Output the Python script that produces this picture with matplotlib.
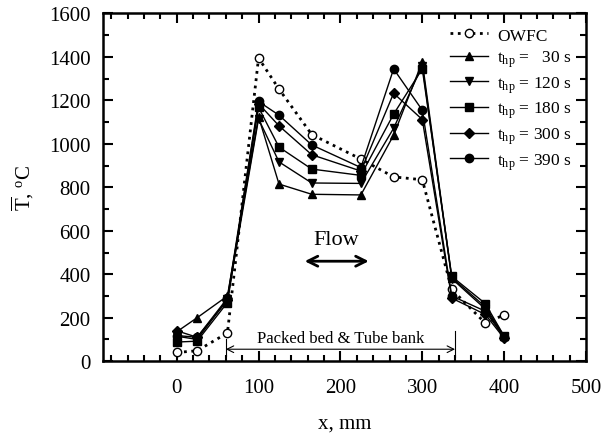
import matplotlib
matplotlib.use('Agg')
import matplotlib.pyplot as plt
from matplotlib.ticker import MultipleLocator

plt.rcParams['font.family'] = 'Liberation Serif'
plt.rcParams['mathtext.fontset'] = 'custom'
plt.rcParams['mathtext.rm'] = 'Liberation Serif'
plt.rcParams['mathtext.it'] = 'Liberation Serif:italic'

# positions along the reactor, mm
x = [0, 25, 62, 100, 125, 165, 225, 265, 300, 336, 377, 400]

# mean temperatures, deg C
owfc = [40, 48, 130, 1395, 1252, 1043, 930, 848, 835, 330, 175, 213]
t30 = [135, 200, 300, 1125, 815, 768, 765, 1040, 1378, 385, 250, 115]
t120 = [115, 100, 285, 1115, 917, 820, 818, 1072, 1360, 380, 240, 110]
t180 = [88, 92, 270, 1168, 985, 884, 855, 1137, 1345, 390, 265, 115]
t300 = [140, 110, 280, 1185, 1083, 950, 875, 1233, 1112, 290, 215, 105]
t390 = [118, 110, 290, 1195, 1132, 995, 891, 1345, 1155, 300, 230, 110]

series = [
    (t30, '^', r't$_{\mathrm{hp}}$ =   30 s'),
    (t120, 'v', r't$_{\mathrm{hp}}$ = 120 s'),
    (t180, 's', r't$_{\mathrm{hp}}$ = 180 s'),
    (t300, 'D', r't$_{\mathrm{hp}}$ = 300 s'),
    (t390, 'o', r't$_{\mathrm{hp}}$ = 390 s'),
]

fig = plt.figure(figsize=(6.13, 4.39), dpi=100)
ax = fig.add_axes([0.168, 0.175, 0.788, 0.792])

ax.plot(x, owfc, linestyle=':', color='black', lw=2, marker='o',
        markerfacecolor='white', markeredgecolor='black', markersize=6,
        markeredgewidth=1, label='OWFC')
for vals, mk, lab in series:
    ms = 5 if mk == 'D' else 6
    ax.plot(x, vals, color='black', lw=1, marker=mk, markersize=ms, label=lab)

ax.set_xlim(-90, 500)
ax.set_ylim(0, 1600)
ax.xaxis.set_major_locator(MultipleLocator(100))
ax.xaxis.set_minor_locator(MultipleLocator(20))
ax.yaxis.set_major_locator(MultipleLocator(200))
ax.yaxis.set_minor_locator(MultipleLocator(100))
ax.tick_params(which='both', direction='in', top=True, right=True, width=1.5,
               labelsize=15)
ax.tick_params(which='major', length=7)
ax.tick_params(which='minor', length=4)
ax.tick_params(axis='x', which='major', pad=12)
ax.tick_params(axis='y', which='major', pad=9)
for s in ax.spines.values():
    s.set_linewidth(1.8)

ax.set_xlabel('x, mm', fontsize=15, labelpad=12)
ax.set_ylabel(r'$\overline{\mathrm{T}}$, $^{\mathrm{o}}$C', fontsize=15, labelpad=9)

# flow direction
ax.text(195, 560, 'Flow', fontsize=16, ha='center', va='center')
ax.annotate('', xy=(238, 460), xytext=(153, 460),
            arrowprops=dict(arrowstyle='<->', lw=2, color='black',
                            mutation_scale=18))

# packed bed extent
ax.annotate('', xy=(340, 55), xytext=(60, 55),
            arrowprops=dict(arrowstyle='<->', lw=0.8, color='black',
                            mutation_scale=12, shrinkA=0, shrinkB=0))
ax.plot([60, 60], [22, 100], color='black', lw=0.8)
ax.plot([340, 340], [18, 140], color='black', lw=0.8)
ax.text(200, 105, 'Packed bed & Tube bank', fontsize=12, ha='center', va='center')

ax.legend(loc='upper right', bbox_to_anchor=(0.995, 0.995), frameon=False,
          fontsize=12.5, handlelength=2.2, handletextpad=0.5, labelspacing=0.29,
          borderaxespad=0.3)

fig.savefig('out.png', dpi=100)
